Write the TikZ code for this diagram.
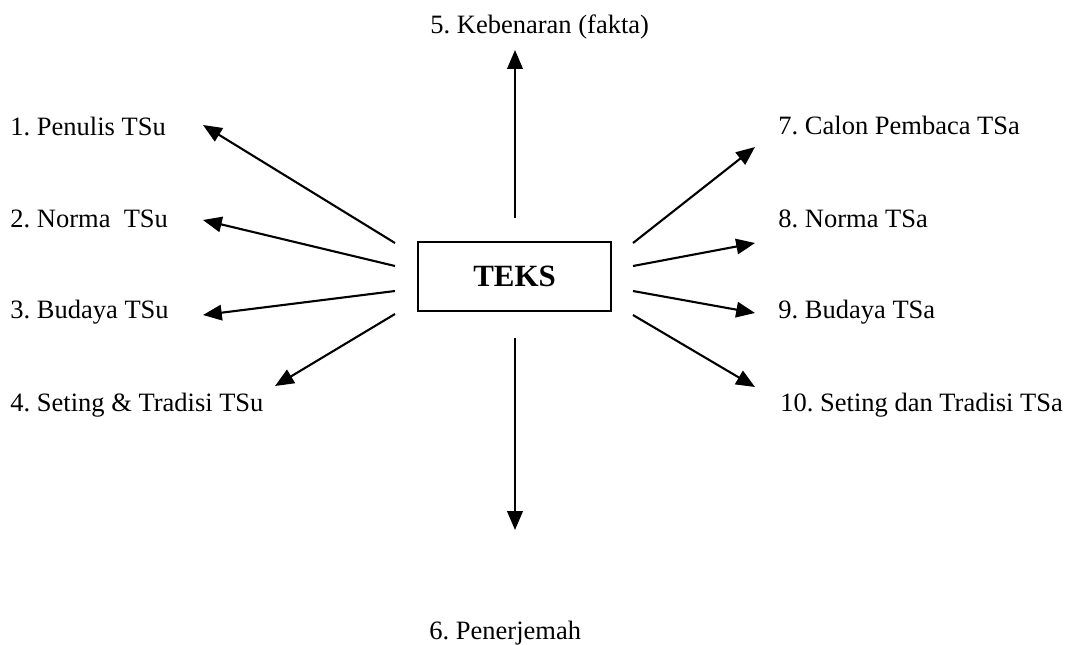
\documentclass[tikz,border=0pt]{standalone}
\usepackage{fontspec}
\setmainfont{Liberation Serif}
\usetikzlibrary{arrows.meta}
\frenchspacing

\begin{document}
\begin{tikzpicture}[x=0.4528pt,y=-0.4528pt,
	lbl/.style={anchor=base west,inner sep=0pt,font=\fontsize{12}{14}\selectfont},
	arr/.style={-{Triangle[length=8.5pt,width=7pt]},line width=0.95pt}]
		% Teks dan hubungannya
		\useasboundingbox (0,0) rectangle (1071,644);
		\node[draw,line width=0.7pt,minimum width=193*0.4528pt,minimum height=69*0.4528pt,font=\fontsize{14}{16}\selectfont\bfseries] (Teks) at (514.5,276.5) {TEKS};

		\node[lbl] (Penulis) at (10,135) {1. Penulis TSu};
		\node[lbl] (NormaSu) at (10,227) {2. Norma\ \ TSu};
		\node[lbl] (BudayaSu) at (10,318) {3. Budaya TSu};
		\node[lbl] (SetingSu) at (10,411) {4. Seting \& Tradisi TSu};
		\node[lbl] (Fakta) at (430,33) {5. Kebenaran (fakta)};
		\node[lbl] (Penerjemah) at (429,639) {6. Penerjemah};
		\node[lbl] (Pembaca) at (778,134) {7. Calon Pembaca TSa};
		\node[lbl] (NormaSa) at (778,227) {8. Norma TSa};
		\node[lbl] (BudayaSa) at (778,318) {9. Budaya TSa};
		\node[lbl] (SetingSa) at (780,411) {10. Seting dan Tradisi TSa};

		% titik awal dan ujung panah
		\coordinate (a1) at (395,243); \coordinate (b1) at (203,125);
		\coordinate (a2) at (395,266); \coordinate (b2) at (203,220);
		\coordinate (a3) at (395,291); \coordinate (b3) at (203,315);
		\coordinate (a4) at (395,314); \coordinate (b4) at (275,386);
		\coordinate (a5) at (515,218); \coordinate (b5) at (515,50);
		\coordinate (a6) at (515,338); \coordinate (b6) at (515,530);
		\coordinate (a7) at (633,243); \coordinate (b7) at (755,147);
		\coordinate (a8) at (633,266); \coordinate (b8) at (755,243);
		\coordinate (a9) at (633,291); \coordinate (b9) at (755,313);
		\coordinate (a10) at (633,315); \coordinate (b10) at (755,387);

		\foreach \i in {1,...,10}
			\draw[arr] (a\i) -- (b\i);

		\end{tikzpicture}
\end{document}
